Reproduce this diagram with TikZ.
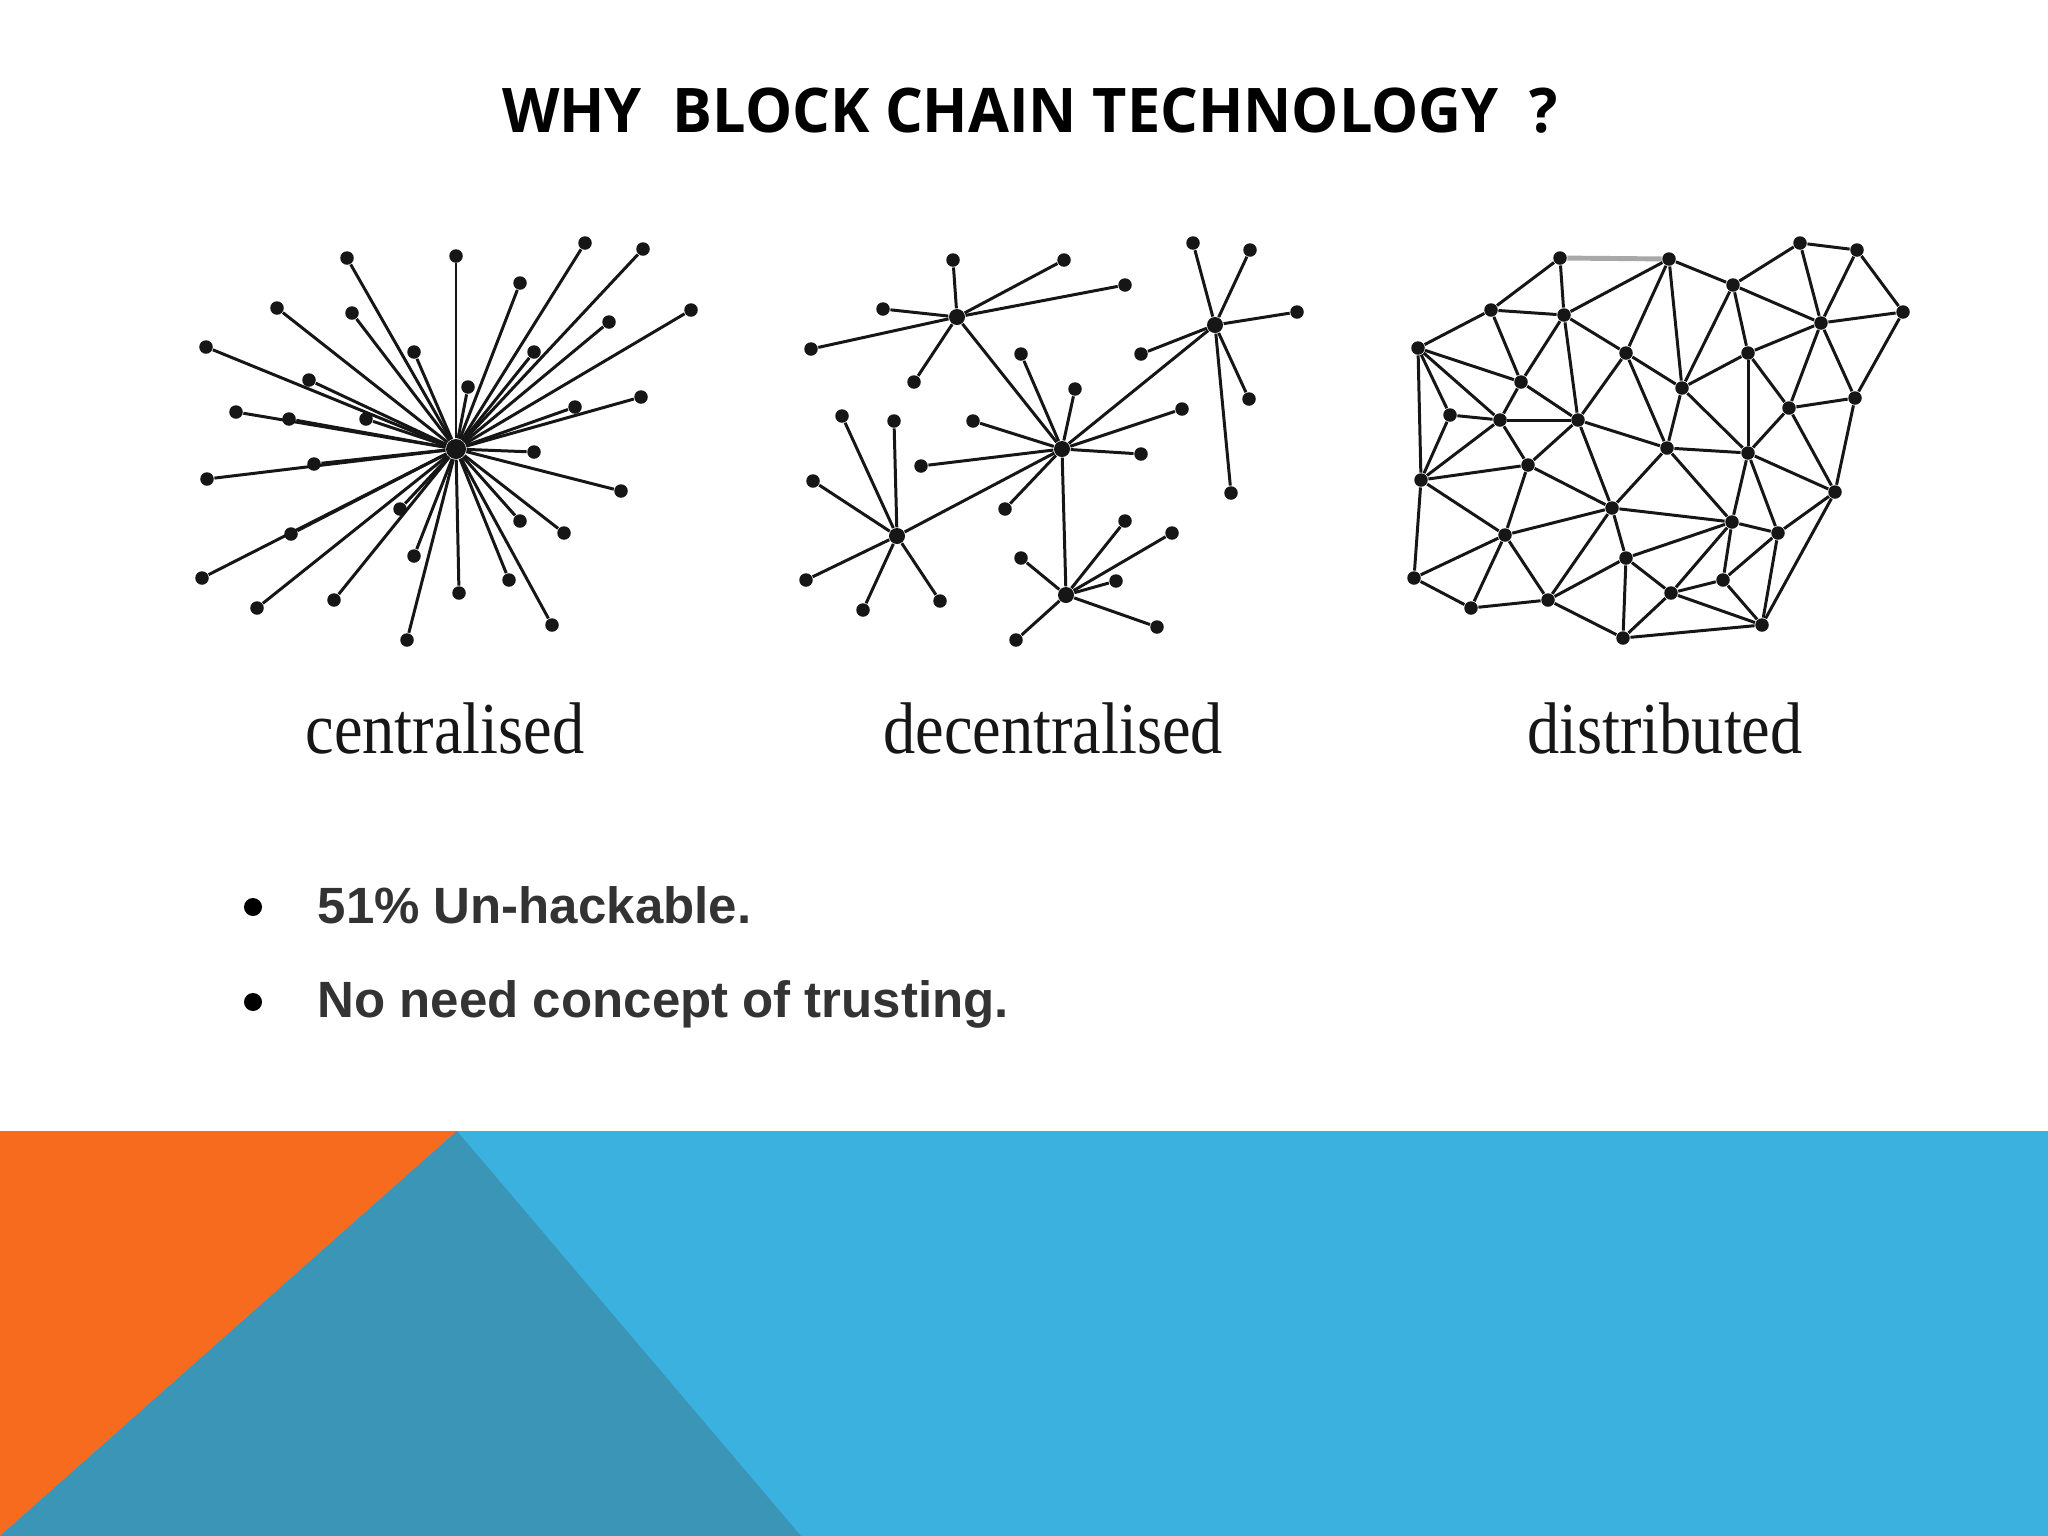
\documentclass[tikz,border=0pt]{standalone}
\usepackage{fontspec}
\usepackage{xcolor}
\usepackage{tikz}
\setmainfont{Liberation Sans}
\newfontfamily\titlefont{Open Sans}[FakeStretch=0.965]
\newfontfamily\captionfont{Liberation Serif}[FakeStretch=0.88]
\definecolor{ink}{HTML}{161616}
\definecolor{bodytext}{HTML}{333333}
\definecolor{slideorange}{HTML}{F66B1E}
\definecolor{skyblue}{HTML}{3BB1DF}
\definecolor{tealblue}{HTML}{3B95B7}
\definecolor{softgray}{HTML}{A8A8A8}

\begin{document}
\begin{tikzpicture}[x=0.01cm, y=-0.01cm,
  netnode/.style={circle, fill=ink, inner sep=0pt, minimum size=1.35mm},
  nethub/.style={netnode, minimum size=1.6mm},
  netline/.style={draw=ink, line width=0.85pt},
  netcaption/.style={font=\captionfont\fontsize{20.8}{24}\selectfont, text=ink, anchor=base, inner sep=0pt},
  pointtext/.style={font=\bfseries\fontsize{14.5}{17}\selectfont, text=bodytext, anchor=base west, inner sep=0pt},
  bulletdot/.style={circle, fill=black, inner sep=0pt, minimum size=1.8mm}
]
\useasboundingbox (0,0) rectangle (2048,1536);

% bottom band
\fill[skyblue] (0,1131) rectangle (2048,1536);
\fill[slideorange] (0,1131) -- (457,1131) -- (0,1536) -- cycle;
\fill[tealblue] (457,1131) -- (801,1536) -- (0,1536) -- cycle;

\node[font=\titlefont\bfseries\fontsize{17.5}{21}\selectfont, anchor=base, inner sep=0pt] (title) at (1030,132) {WHY\ \ BLOCK CHAIN TECHNOLOGY\ \ ?};

% centralised
\node[nethub, minimum size=2mm] (cen0) at (456,449) {};
\foreach \i/\x/\y in {1/347/258, 2/456/256, 3/585/243, 4/643/249, 5/520/283,
    6/277/308, 7/352/313, 8/691/310, 9/609/322, 10/206/347, 11/414/352,
    12/534/352, 13/309/380, 14/468/387, 15/236/412, 16/289/419, 17/366/419,
    18/575/407, 19/641/397, 20/534/452, 21/314/464, 22/207/479, 23/621/491,
    24/400/509, 25/291/534, 26/520/521, 27/564/533, 28/414/556, 29/202/578,
    30/257/608, 31/334/600, 32/459/593, 33/509/580, 34/552/625, 35/407/640}{
  \node[netnode] (cen\i) at (\x,\y) {};
  \draw[netline] (cen0) -- (cen\i);
}
\node[netcaption] (cenlabel) at (445,753) {centralised};

% decentralised
\node[nethub] (decA) at (957,317) {};
\node[nethub] (decB) at (1062,449) {};
\node[nethub] (decC) at (1215,325) {};
\node[nethub] (decD) at (897,536) {};
\node[nethub] (decE) at (1066,595) {};
\foreach \h in {A,C,D,E}
  \draw[netline] (decB) -- (dec\h);
\foreach \i/\x/\y/\h in {1/953/260/A, 2/1064/260/A, 3/1125/285/A, 4/883/309/A,
    5/811/349/A, 6/914/382/A,
    7/1021/354/B, 8/1075/389/B, 9/973/421/B, 10/1182/409/B, 11/1141/454/B,
    12/921/466/B, 13/1005/509/B,
    14/1193/243/C, 15/1250/250/C, 16/1297/312/C, 17/1141/354/C, 18/1249/399/C,
    19/1231/493/C,
    20/842/416/D, 21/894/421/D, 22/813/481/D, 23/806/580/D, 24/863/610/D,
    25/940/601/D,
    26/1125/521/E, 27/1172/533/E, 28/1021/558/E, 29/1116/581/E, 30/1157/627/E,
    31/1016/640/E}{
  \node[netnode] (dec\i) at (\x,\y) {};
  \draw[netline] (dec\h) -- (dec\i);
}
\node[netcaption] (declabel) at (1053,753) {decentralised};

% distributed
\foreach \i/\x/\y in {1/1560/258, 2/1669/259, 3/1800/243, 4/1857/250, 5/1733/285,
    6/1491/310, 7/1564/315, 8/1903/312, 9/1821/323, 10/1418/348, 11/1626/353,
    12/1748/353, 13/1521/382, 14/1682/388, 15/1450/415, 16/1500/420,
    17/1578/420, 18/1789/408, 19/1855/398, 20/1667/448, 21/1748/453,
    22/1528/465, 23/1421/480, 24/1835/492, 25/1612/508, 26/1732/522,
    27/1505/535, 28/1778/533, 29/1626/558, 30/1723/580, 31/1414/578,
    32/1471/608, 33/1548/600, 34/1671/593, 35/1762/625, 36/1623/638}
  \node[netnode] (dis\i) at (\x,\y) {};
\draw[netline, draw=softgray, line width=1.4pt] (dis1) -- (dis2);
\foreach \a/\b in {1/6, 1/7, 2/7, 2/11, 2/5, 2/14, 3/4, 3/5, 3/9, 4/9, 4/8,
    5/9, 5/14, 5/12, 6/7, 6/10, 6/13, 7/13, 7/11, 7/17, 8/9, 8/19, 9/12, 9/18,
    9/19, 10/13, 10/15, 10/16, 10/23, 11/14, 11/17, 11/20, 12/14, 12/18, 12/21,
    13/16, 13/17, 14/20, 14/21, 15/16, 15/23, 16/17, 16/22, 16/23, 17/20,
    17/22, 17/25, 18/19, 18/21, 18/24, 19/24, 20/21, 20/25, 20/26, 21/24,
    21/26, 21/28, 22/23, 22/25, 22/27, 23/27, 23/31, 24/28, 24/35, 25/26,
    25/27, 25/29, 25/33, 26/28, 26/29, 26/30, 26/34, 27/31, 27/32, 27/33,
    28/30, 28/35, 29/33, 29/34, 29/36, 30/34, 30/35, 31/32, 32/33, 33/36,
    34/35, 34/36, 35/36}
  \draw[netline] (dis\a) -- (dis\b);
\node[netcaption] (dislabel) at (1665,753) {distributed};

% points
\node[bulletdot] (bul1) at (253,907) {};
\node[pointtext] (pt1) at (317,923) {51\% Un-hackable.};
\node[bulletdot] (bul2) at (253,1002) {};
\node[pointtext] (pt2) at (317,1017) {No need concept of trusting.};
\end{tikzpicture}
\end{document}
